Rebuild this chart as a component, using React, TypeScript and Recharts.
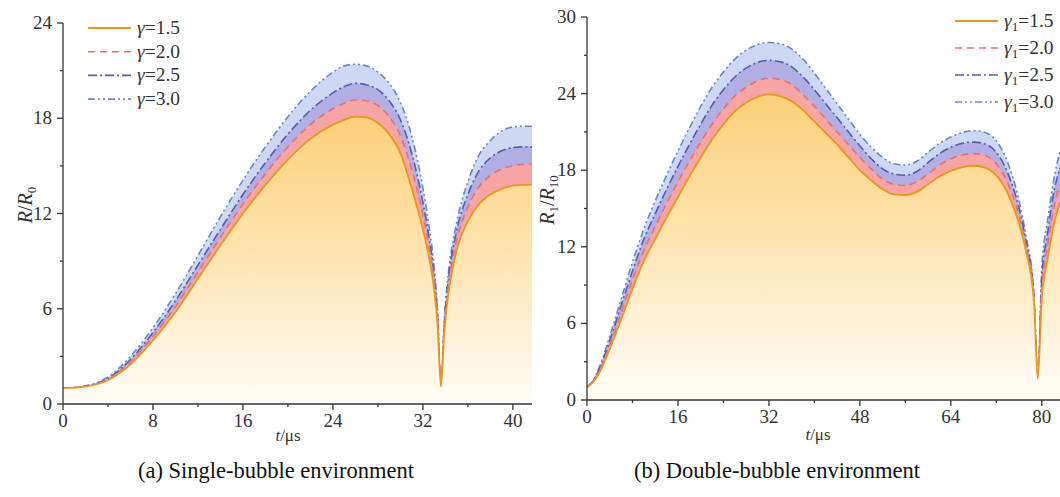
import { ComposedChart, Area, XAxis, YAxis, Legend } from 'recharts';

// (a) single bubble: t in µs, R/R0
const tA = [0, 2, 4, 6, 8, 10, 12, 14, 16, 18, 20, 22, 24, 25, 26, 27, 28, 29, 30, 31, 32, 32.5, 33, 33.3, 33.6, 33.9, 34.2, 35, 36, 37, 38, 39, 40, 41, 41.7];
const gA15 = [1.0, 1.1, 1.5, 2.5, 4.0, 5.8, 7.9, 10.0, 12.0, 13.8, 15.4, 16.7, 17.6, 17.9, 18.1, 18.05, 17.7, 17.0, 15.8, 13.6, 11.0, 9.4, 7.2, 5.0, 1.1, 4.5, 6.6, 9.7, 11.5, 12.6, 13.2, 13.55, 13.75, 13.8, 13.8];
const gA20 = [1.0, 1.1, 1.55, 2.65, 4.25, 6.15, 8.3, 10.5, 12.6, 14.5, 16.2, 17.6, 18.6, 18.95, 19.15, 19.1, 18.8, 18.1, 16.9, 14.8, 11.9, 10.1, 7.7, 5.3, 1.0, 4.8, 7.0, 10.3, 12.4, 13.7, 14.4, 14.8, 15.0, 15.1, 15.1];
const gA25 = [1.0, 1.12, 1.6, 2.8, 4.5, 6.5, 8.75, 11.0, 13.2, 15.2, 17.0, 18.5, 19.6, 20.0, 20.2, 20.1, 19.8, 19.1, 17.9, 15.8, 12.7, 10.7, 8.1, 5.6, 1.0, 5.0, 7.4, 10.9, 13.2, 14.7, 15.5, 15.95, 16.15, 16.2, 16.2];
const gA30 = [1.0, 1.15, 1.7, 3.0, 4.8, 6.95, 9.35, 11.8, 14.1, 16.2, 18.1, 19.7, 20.9, 21.3, 21.4, 21.3, 20.9, 20.2, 19.0, 16.9, 13.6, 11.4, 8.6, 5.9, 1.0, 5.3, 7.8, 11.4, 14.0, 15.7, 16.6, 17.2, 17.45, 17.5, 17.5];

// (b) double bubble: t in µs, R1/R10
const tB = [0, 1, 2, 4, 6, 8, 10, 12, 14, 16, 18, 20, 22, 24, 26, 28, 30, 32, 34, 36, 38, 40, 42, 44, 46, 48, 50, 52, 54, 56, 58, 60, 62, 64, 66, 68, 70, 72, 74, 76, 77.2, 78.6, 79.3, 80, 81, 82, 83.2];
const gB15 = [1.0, 1.35, 2.0, 4.0, 6.3, 8.7, 10.9, 12.6, 14.3, 15.9, 17.5, 19.0, 20.4, 21.6, 22.6, 23.3, 23.75, 23.95, 23.8, 23.4, 22.7, 21.8, 20.9, 20.0, 19.0, 18.0, 17.2, 16.5, 16.1, 16.05, 16.3, 16.9, 17.5, 17.95, 18.25, 18.35, 18.2, 17.6, 16.2, 13.8, 11.7, 7.8, 1.7, 8.0, 11.0, 13.5, 15.5];
const gB20 = [1.0, 1.4, 2.1, 4.3, 6.8, 9.4, 11.7, 13.6, 15.4, 17.1, 18.7, 20.2, 21.6, 22.8, 23.8, 24.5, 25.0, 25.2, 25.1, 24.7, 23.9, 23.0, 22.0, 21.0, 20.0, 19.0, 18.1, 17.3, 16.9, 16.8, 17.1, 17.7, 18.4, 18.9, 19.2, 19.3, 19.15, 18.5, 17.0, 14.4, 12.1, 8.0, 1.6, 8.8, 12.0, 14.8, 16.9];
const gB25 = [1.0, 1.45, 2.25, 4.65, 7.4, 10.1, 12.6, 14.6, 16.5, 18.3, 20.0, 21.6, 23.1, 24.3, 25.3, 26.0, 26.45, 26.6, 26.5, 26.1, 25.3, 24.3, 23.2, 22.1, 21.0, 19.9, 18.9, 18.1, 17.7, 17.6, 17.9, 18.6, 19.3, 19.8, 20.1, 20.2, 20.05, 19.4, 17.8, 15.0, 12.5, 8.2, 1.5, 9.6, 13.0, 16.0, 18.2];
const gB30 = [1.0, 1.5, 2.4, 5.0, 7.9, 10.8, 13.4, 15.6, 17.6, 19.5, 21.3, 23.0, 24.5, 25.7, 26.7, 27.4, 27.85, 28.0, 27.9, 27.5, 26.7, 25.6, 24.4, 23.2, 22.0, 20.8, 19.8, 19.0, 18.5, 18.4, 18.7, 19.4, 20.1, 20.6, 20.95, 21.1, 20.95, 20.3, 18.6, 15.6, 12.9, 8.4, 1.5, 10.4, 14.0, 17.0, 19.5];

const legendValues = ['1.5', '2.0', '2.5', '3.0'];

const dataA = tA.map((t, i) => ({ t, g15: gA15[i], g20: gA20[i], g25: gA25[i], g30: gA30[i] }));
const dataB = tB.map((t, i) => ({ t, g15: gB15[i], g20: gB20[i], g25: gB25[i], g30: gB30[i] }));

const FONT = '"Liberation Serif", "Times New Roman", serif';
const AXIS = '#333';

// line styles: g15, g20, g25, g30
const styles = [
  { key: 'g15', stroke: '#e8981c', fill: 'url(#orangeFade)', dash: undefined, width: 1.8 },
  { key: 'g20', stroke: '#ef6e6e', fill: '#f6a4a4', dash: '7 5', width: 1.6 },
  { key: 'g25', stroke: '#5b5bb0', fill: '#b0aee2', dash: '9 3 2 3', width: 1.6 },
  { key: 'g30', stroke: '#6b86c9', fill: '#cdd8f4', dash: '7 3 2 3 2 3', width: 1.6 },
];

const makeXTick = (majors: number[]) => (props: any) => {
  const { x, y, payload } = props;
  const major = majors.includes(payload.value);
  return (
    <g>
      <line x1={x} y1={y} x2={x} y2={y + (major ? 6 : 3)} stroke={AXIS} strokeWidth={1.3} />
      {major && (
        <text x={x} y={y + 23} textAnchor="middle" fontSize={19} fontFamily={FONT} fill="#333">
          {payload.value}
        </text>
      )}
    </g>
  );
};

const makeYTick = (majors: number[]) => (props: any) => {
  const { x, y, payload } = props;
  const major = majors.includes(payload.value);
  return (
    <g>
      <line x1={x - (major ? 6 : 3)} y1={y} x2={x} y2={y} stroke={AXIS} strokeWidth={1.3} />
      {major && (
        <text x={x - 11} y={y + 6} textAnchor="end" fontSize={19} fontFamily={FONT} fill="#333">
          {payload.value}
        </text>
      )}
    </g>
  );
};

const makeLegend = (sub: boolean, gap: number) => () => (
  <svg width={125} height={4 * gap + 10}>
    {styles.map((s, i) => {
      const y = 12 + i * gap;
      return (
        <g key={s.key}>
          <line x1={4} x2={47} y1={y} y2={y} stroke={s.stroke} strokeWidth={s.width} strokeDasharray={s.dash} />
          <text x={53} y={y + 6} fontSize={19.5} fontFamily={FONT} fill="#333">
            <tspan fontStyle="italic">γ</tspan>
            {sub && <tspan fontSize={13} dy={4}>1</tspan>}
            <tspan dy={sub ? -4 : 0}>={legendValues[i]}</tspan>
          </text>
        </g>
      );
    })}
  </svg>
);

const Gradient = () => (
  <defs>
    <linearGradient id="orangeFade" x1="0" y1="0" x2="0" y2="1">
      <stop offset="0%" stopColor="#fcd07a" />
      <stop offset="45%" stopColor="#fde3ad" />
      <stop offset="100%" stopColor="#fffdf8" />
    </linearGradient>
  </defs>
);

const renderAreas = () =>
  [...styles].reverse().map((s) => (
    <Area
      key={s.key}
      type="monotone"
      dataKey={s.key}
      stroke={s.stroke}
      strokeWidth={s.width}
      strokeDasharray={s.dash}
      fill={s.fill}
      fillOpacity={1}
      dot={false}
      activeDot={false}
      isAnimationActive={false}
    />
  ));

const App = () => {
  return (
    <div style={{ position: 'absolute', left: 0, top: 0, width: 1060, height: 497, background: '#fff' }}>
      <div style={{ position: 'absolute', left: 0, top: 0 }}>
        <ComposedChart width={545} height={440} data={dataA} margin={{ top: 23, right: 13, left: 13, bottom: 6 }}>
          <Gradient />
          <XAxis
            dataKey="t"
            type="number"
            domain={[0, 41.7]}
            allowDataOverflow
            ticks={[0, 4, 8, 12, 16, 20, 24, 28, 32, 36, 40]}
            interval={0}
            tickSize={0}
            tickMargin={0}
            tickLine={false}
            axisLine={{ stroke: AXIS, strokeWidth: 1.3 }}
            tick={makeXTick([0, 8, 16, 24, 32, 40])}
            height={30}
          />
          <YAxis
            type="number"
            domain={[0, 24]}
            ticks={[0, 3, 6, 9, 12, 15, 18, 21, 24]}
            interval={0}
            tickSize={0}
            tickMargin={0}
            tickLine={false}
            axisLine={{ stroke: AXIS, strokeWidth: 1.3 }}
            tick={makeYTick([0, 6, 12, 18, 24])}
            width={50}
          />
          <Legend
            layout="vertical"
            align="center"
            verticalAlign="middle"
            content={makeLegend(false, 23.7)}
            wrapperStyle={{ position: 'absolute', left: 84, top: 16, width: 125 }}
          />
          {renderAreas()}
        </ComposedChart>
      </div>

      <div style={{ position: 'absolute', left: 530, top: 0 }}>
        <ComposedChart width={530} height={440} data={dataB} margin={{ top: 17, right: 0, left: 7, bottom: 10 }}>
          <Gradient />
          <XAxis
            dataKey="t"
            type="number"
            domain={[0, 83.2]}
            allowDataOverflow
            ticks={[0, 8, 16, 24, 32, 40, 48, 56, 64, 72, 80]}
            interval={0}
            tickSize={0}
            tickMargin={0}
            tickLine={false}
            axisLine={{ stroke: AXIS, strokeWidth: 1.3 }}
            tick={makeXTick([0, 16, 32, 48, 64, 80])}
            height={30}
          />
          <YAxis
            type="number"
            domain={[0, 30]}
            ticks={[0, 3, 6, 9, 12, 15, 18, 21, 24, 27, 30]}
            interval={0}
            tickSize={0}
            tickMargin={0}
            tickLine={false}
            axisLine={{ stroke: AXIS, strokeWidth: 1.3 }}
            tick={makeYTick([0, 6, 12, 18, 24, 30])}
            width={50}
          />
          <Legend
            layout="vertical"
            align="center"
            verticalAlign="middle"
            content={makeLegend(true, 27)}
            wrapperStyle={{ position: 'absolute', left: 421, top: 9, width: 125 }}
          />
          {renderAreas()}
        </ComposedChart>
      </div>

      <svg width={1060} height={497} style={{ position: 'absolute', left: 0, top: 0, pointerEvents: 'none' }}>
        <text transform="translate(32,205) rotate(-90)" textAnchor="middle" fontSize={20} fontFamily={FONT} fill="#333">
          <tspan fontStyle="italic">R</tspan>/<tspan fontStyle="italic">R</tspan>
          <tspan fontSize={13} dy={4}>0</tspan>
        </text>
        <text transform="translate(554,200) rotate(-90)" textAnchor="middle" fontSize={20} fontFamily={FONT} fill="#333">
          <tspan fontStyle="italic">R</tspan>
          <tspan fontSize={13} dy={4}>1</tspan>
          <tspan dy={-4}>/</tspan>
          <tspan fontStyle="italic">R</tspan>
          <tspan fontSize={13} dy={4}>10</tspan>
        </text>
        <text x={288} y={441} textAnchor="middle" fontSize={17} fontFamily={FONT} fill="#333">
          <tspan fontStyle="italic">t</tspan>/μs
        </text>
        <text x={818} y={440} textAnchor="middle" fontSize={17} fontFamily={FONT} fill="#333">
          <tspan fontStyle="italic">t</tspan>/μs
        </text>
        <text x={276} y={478} textAnchor="middle" fontSize={22.5} fontFamily={FONT} fill="#111">
          (a) Single-bubble environment
        </text>
        <text x={777} y={478} textAnchor="middle" fontSize={22.5} fontFamily={FONT} fill="#111">
          (b) Double-bubble environment
        </text>
      </svg>
    </div>
  );
};

export default App;
